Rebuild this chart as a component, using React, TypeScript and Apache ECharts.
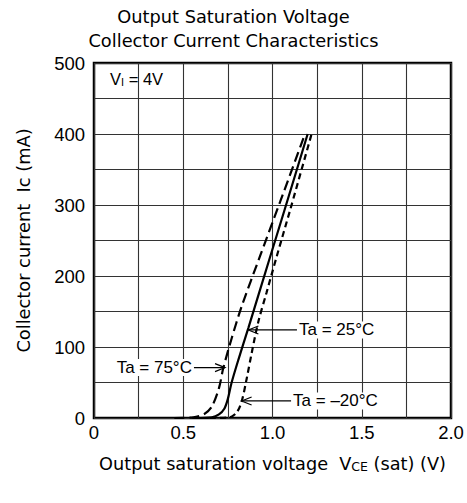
import React, { useEffect, useRef } from 'react';
import * as echarts from 'echarts';

const titleLines = ['Output Saturation Voltage', 'Collector Current Characteristics'];
const xLabelValues = [0, 0.5, 1.0, 1.5, 2.0];
const yLabelValues = [0, 100, 200, 300, 400, 500];

// Ta = 75°C (long dash)
const curve75: number[][] = [[0.45, 0], [0.556, 1], [0.62, 6], [0.66, 16], [0.70, 42], [0.724, 70], [0.771, 112], [0.827, 157], [0.93, 228], [1.042, 304], [1.182, 400]];
// Ta = 25°C (solid)
const curve25: number[][] = [[0.55, 0], [0.66, 1], [0.70, 5], [0.73, 13], [0.75, 27], [0.77, 49], [0.81, 83], [0.865, 127], [0.977, 219], [1.07, 295], [1.197, 400]];
// Ta = -20°C (short dash)
const curveM20: number[][] = [[0.65, 0], [0.76, 1], [0.80, 8], [0.827, 23], [0.855, 55], [0.883, 91], [0.92, 135], [0.967, 177], [1.023, 227], [1.10, 294], [1.219, 400]];

const annotations = [
  { text: 'Ta = 25°C', tip: [0.865, 124], end: [1.137, 124], side: 'right' },
  { text: 'Ta = 75°C', tip: [0.734, 71], end: [0.56, 71], side: 'left' },
  { text: 'Ta = –20°C', tip: [0.827, 24], end: [1.104, 24], side: 'right' },
];
const condition = { pos: [0.09, 477] };

const FONT = 'Liberation Sans, Arial, sans-serif';
const WIDE = 'DejaVu Sans, sans-serif';

export default function App() {
  const ref = useRef<HTMLDivElement>(null);
  useEffect(() => {
    if (!ref.current) return;
    const chart = echarts.init(ref.current, null, { renderer: 'svg' });
    const fmtX = (v: number) => {
      const hit = xLabelValues.find((t) => Math.abs(t - v) < 1e-6);
      if (hit === undefined) return '';
      return hit === 0 ? '0' : hit.toFixed(1);
    };
    const fmtY = (v: number) => (yLabelValues.some((t) => Math.abs(t - v) < 1e-6) ? String(v) : '');
    const lineStyleBase = { color: '#000', width: 2.2 };
    chart.setOption({
      animation: false,
      backgroundColor: '#fff',
      textStyle: { fontFamily: FONT },
      title: {
        text: titleLines.join('\n'),
        left: 'center',
        top: -1,
        textStyle: { fontSize: 17.8, fontWeight: 'normal', color: '#000', lineHeight: 24, fontFamily: WIDE },
      },
      grid: { left: 94, right: 16, top: 63, bottom: 85, show: true, borderColor: '#000', borderWidth: 2.5, backgroundColor: 'transparent' },
      xAxis: {
        type: 'value', min: 0, max: 2, interval: 0.25,
        axisLine: { show: false }, axisTick: { show: false },
        splitLine: { show: true, lineStyle: { color: '#333', width: 1.1 } },
        axisLabel: { formatter: fmtX, fontSize: 18.5, color: '#000', margin: 5, fontFamily: FONT, showMaxLabel: true },
        name: 'Output saturation voltage  V{s|CE} (sat) (V)',
        nameLocation: 'middle', nameGap: 37,
        nameTextStyle: { fontSize: 17.7, color: '#000', fontFamily: WIDE, rich: { s: { fontSize: 12.5, color: '#000', fontFamily: WIDE, verticalAlign: 'bottom' } } },
      },
      yAxis: {
        type: 'value', min: 0, max: 500, interval: 50,
        axisLine: { show: false }, axisTick: { show: false },
        splitLine: { show: true, lineStyle: { color: '#333', width: 1.1 } },
        axisLabel: { formatter: fmtY, fontSize: 18.5, color: '#000', margin: 9, fontFamily: FONT },
        name: 'Collector current  Ic (mA)',
        nameLocation: 'middle', nameGap: 62, nameRotate: 90,
        nameTextStyle: { fontSize: 17.8, color: '#000', fontFamily: WIDE },
      },
      series: [
        { type: 'line', data: curve75, smooth: 0.3, symbol: 'none', lineStyle: { ...lineStyleBase, type: [10, 5] }, z: 5 },
        { type: 'line', data: curve25, smooth: 0.3, symbol: 'none', lineStyle: { ...lineStyleBase }, z: 5 },
        { type: 'line', data: curveM20, smooth: 0.3, symbol: 'none', lineStyle: { ...lineStyleBase, type: [6, 4] }, z: 5 },
      ],
    });

    const px = (p: number[]) => chart.convertToPixel({ gridIndex: 0 }, p) as number[];
    const graphics: any[] = [];
    annotations.forEach((a) => {
      const t = px(a.tip);
      const e = px(a.end);
      const dir = a.side === 'right' ? 1 : -1;
      graphics.push({ type: 'line', shape: { x1: t[0], y1: t[1], x2: e[0], y2: e[1] }, style: { stroke: '#000', lineWidth: 1.2 }, z: 10 });
      graphics.push({
        type: 'polyline',
        shape: { points: [[t[0] + dir * 10, t[1] - 4], [t[0], t[1]], [t[0] + dir * 10, t[1] + 4]] },
        style: { stroke: '#000', lineWidth: 1.2, fill: 'none' }, z: 10,
      });
      graphics.push({
        type: 'text', x: e[0] + dir * 2, y: e[1],
        style: { text: a.text, fontSize: 17, fontFamily: FONT, fill: '#000', align: a.side === 'right' ? 'left' : 'right', verticalAlign: 'middle', backgroundColor: '#fff' },
        z: 10,
      });
    });
    const c = px(condition.pos);
    graphics.push({
      type: 'text', x: c[0], y: c[1],
      style: {
        text: 'V{s|I} = 4V', fontSize: 16.5, fontFamily: FONT, fill: '#000', verticalAlign: 'middle',
        rich: { s: { fontSize: 11, fontFamily: FONT, fill: '#000', verticalAlign: 'bottom' } },
      },
      z: 10,
    });
    chart.setOption({ graphic: graphics });
    return () => chart.dispose();
  }, []);
  return <div ref={ref} style={{ position: 'fixed', left: 0, top: 0, width: 467, height: 503 }} />;
}
